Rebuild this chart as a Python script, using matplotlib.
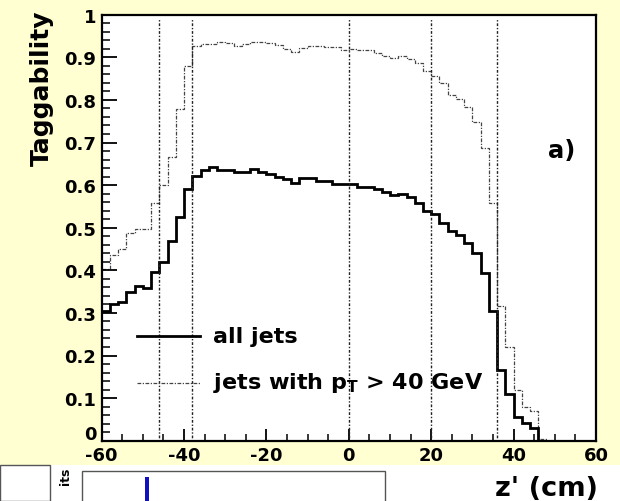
import numpy as np
import matplotlib.pyplot as plt
import matplotlib.transforms as mtransforms
from matplotlib.patches import Rectangle
from matplotlib.ticker import MultipleLocator, FixedLocator, FixedFormatter

plt.rcParams['font.family'] = ['DejaVu Sans']
plt.rcParams['font.weight'] = 'bold'
plt.rcParams['mathtext.fontset'] = 'dejavusans'

# bin edges: 60 bins of 2 cm from -60 to 60
edges = np.arange(-60, 61, 2)

all_jets = [0.305, 0.320, 0.326, 0.350, 0.362, 0.358, 0.397, 0.420, 0.469, 0.525,
            0.590, 0.621, 0.636, 0.643, 0.636, 0.636, 0.631, 0.631, 0.637, 0.631,
            0.625, 0.619, 0.614, 0.605, 0.617, 0.617, 0.610, 0.610, 0.602, 0.602,
            0.602, 0.596, 0.596, 0.590, 0.584, 0.576, 0.578, 0.572, 0.557, 0.539,
            0.531, 0.510, 0.493, 0.484, 0.465, 0.440, 0.394, 0.305, 0.166, 0.109,
            0.055, 0.042, 0.030, 0.0, 0.0, 0.0, 0.0, 0.0, 0.0, 0.0]

jets_pt40 = [0.404, 0.437, 0.451, 0.488, 0.497, 0.497, 0.558, 0.601, 0.667, 0.778,
             0.879, 0.927, 0.932, 0.932, 0.937, 0.934, 0.927, 0.931, 0.937, 0.937,
             0.934, 0.928, 0.920, 0.912, 0.921, 0.927, 0.927, 0.925, 0.924, 0.918,
             0.920, 0.918, 0.916, 0.910, 0.904, 0.898, 0.904, 0.896, 0.887, 0.867,
             0.857, 0.839, 0.812, 0.801, 0.783, 0.748, 0.688, 0.557, 0.316, 0.221,
             0.119, 0.080, 0.070, 0.004, 0.0, 0.0, 0.0, 0.0, 0.0, 0.0]

vlines = [-46, -38, 0, 20, 36]

xticks = [-60, -40, -20, 0, 20, 40, 60]
xtick_labels = ['-60', '-40', '-20', '0', '20', '40', '60']
yticks = [0, 0.1, 0.2, 0.3, 0.4, 0.5, 0.6, 0.7, 0.8, 0.9, 1.0]
ytick_labels = ['0', '0.1', '0.2', '0.3', '0.4', '0.5', '0.6', '0.7', '0.8', '0.9', '1']

W, H = 620, 502
fig = plt.figure(figsize=(W / 100, H / 100), dpi=100, facecolor='#ffffd2')

# bottom strip with the top of the next panel
fig.patches.append(Rectangle((0, 0), 1, 1 - 466 / H, transform=fig.transFigure,
                             facecolor='white', edgecolor='none', zorder=0))
fig.patches.append(Rectangle((0, 0), 50 / W, 1 - 466 / H, transform=fig.transFigure,
                             facecolor='white', edgecolor='#555555', lw=1.0, zorder=1))
fig.patches.append(Rectangle((82 / W, -0.05), (385 - 82) / W, 0.05 + 1 - 472 / H,
                             transform=fig.transFigure, facecolor='white',
                             edgecolor='#555555', lw=1.0, zorder=1))
fig.patches.append(Rectangle((145 / W, 0), 4 / W, 1 - 478 / H, transform=fig.transFigure,
                             facecolor='#1010c0', edgecolor='none', zorder=2))
fig.text(66 / W, 1 - 468 / H, 'its', rotation=90, fontsize=9, ha='center', va='top')

ax = fig.add_axes([101.7 / W, 1 - 441.7 / H, (596 - 101.7) / W, (441.7 - 15.7) / H])
ax.set_facecolor('white')

ax.stairs(jets_pt40, edges, baseline=None, color='#444444', lw=0.9,
          linestyle=(0, (3, 1.2, 1, 1.2)))
ax.stairs(all_jets, edges, baseline=None, color='black', lw=2.0)

for xv in vlines:
    ax.plot([xv, xv], [0, 0.99], color='#222222', lw=1.0,
            linestyle=(0, (1, 1.3, 2, 1.3)))

# legend drawn by hand, like the ROOT one
ax.plot([-51.4, -36.1], [0.245, 0.245], color='black', lw=2.0)
ax.plot([-51.4, -36.1], [0.135, 0.135], color='#444444', lw=0.9,
        linestyle=(0, (3, 1.2, 1, 1.2)))
ax.text(-33.0, 0.232, 'all jets', fontsize=16, fontweight='bold', va='baseline')
ax.text(-33.0, 0.124, r'jets with $\mathbf{p_{T}}$ > 40 GeV', fontsize=16,
        fontweight='bold', va='baseline')
ax.text(48.3, 0.667, 'a)', fontsize=17.5, fontweight='bold', va='baseline')

ax.set_xlim(-60, 60)
ax.set_ylim(0, 1)
ax.xaxis.set_major_locator(FixedLocator(xticks))
ax.xaxis.set_major_formatter(FixedFormatter(xtick_labels))
ax.xaxis.set_minor_locator(MultipleLocator(5))
ax.yaxis.set_major_locator(FixedLocator(yticks))
ax.yaxis.set_major_formatter(FixedFormatter(ytick_labels))
ax.yaxis.set_minor_locator(MultipleLocator(0.02))

ax.tick_params(axis='y', which='major', direction='in', length=11, width=1.3,
               labelsize=13, pad=4)
ax.tick_params(axis='y', which='minor', direction='in', length=5.5, width=1.1)
ax.tick_params(axis='x', which='major', direction='in', length=9, width=1.3,
               labelsize=13, pad=4)
ax.tick_params(axis='x', which='minor', direction='in', length=5, width=1.1)
for lab in ax.get_xticklabels() + ax.get_yticklabels():
    lab.set_fontweight('bold')
for sp in ax.spines.values():
    sp.set_linewidth(1.6)

# ROOT puts the y "0" a little higher, clear of the "-60"
fig.canvas.draw()
zero_lab = ax.yaxis.get_major_ticks()[0].label1
zero_lab.set_transform(zero_lab.get_transform() +
                       mtransforms.ScaledTranslation(0, 6 / 72, fig.dpi_scale_trans))

fig.text(42 / W, 1 - 10 / H, 'Taggability', rotation=90, fontsize=18,
         fontweight='bold', ha='center', va='top')
fig.text(598 / W, 1 - 496 / H, "z' (cm)", fontsize=19.5, fontweight='bold',
         ha='right', va='baseline')

fig.savefig('out.png', dpi=100, facecolor=fig.get_facecolor())
